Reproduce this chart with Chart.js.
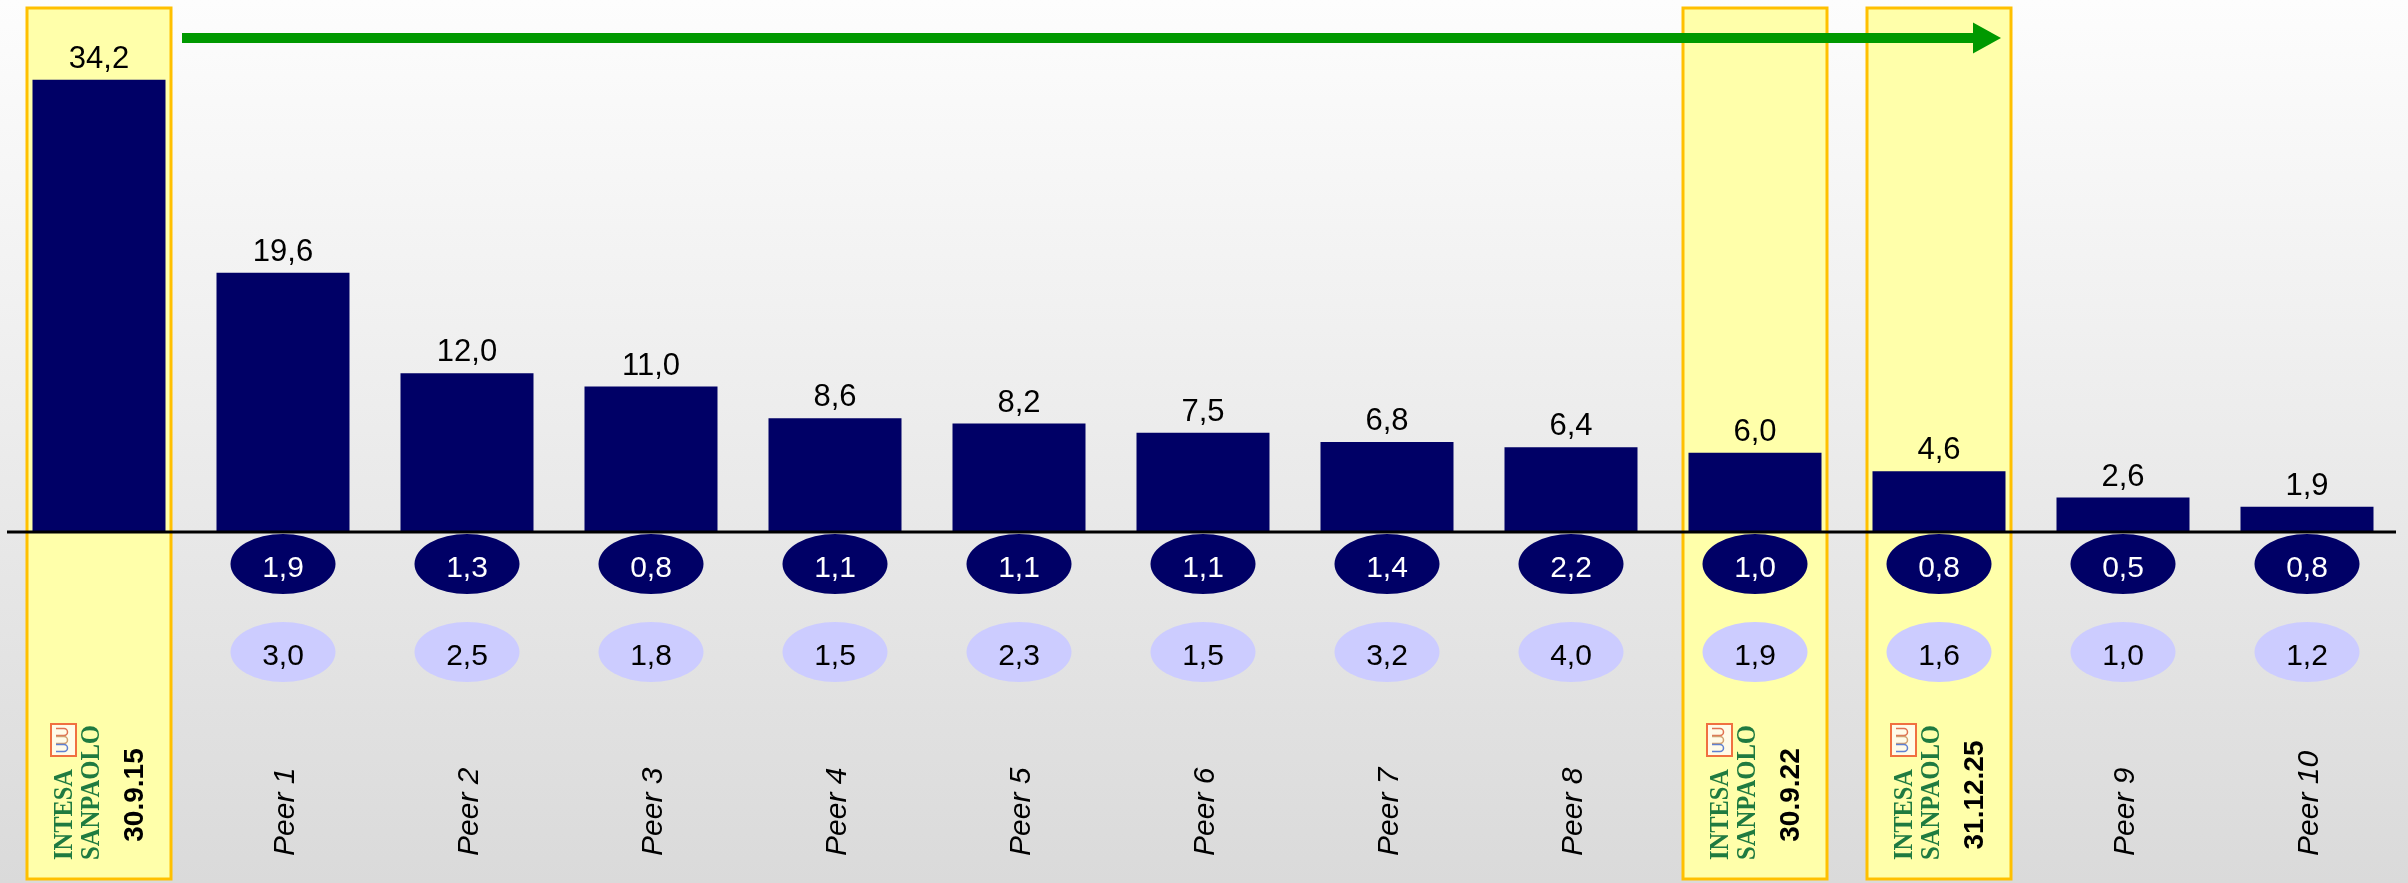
<!DOCTYPE html>
<html>
<head>
<meta charset="utf-8">
<script src="https://cdn.jsdelivr.net/npm/chart.js@4.4.1/dist/chart.umd.min.js"></script>
<style>
html, body { margin: 0; padding: 0; overflow: hidden; background: #fff; }
#wrap { width: 2408px; height: 883px; }
</style>
</head>
<body>
<div id="wrap"><canvas id="peerChart" width="2408" height="883"></canvas></div>
<script>
// categories and values
var categories = ['30.9.15', 'Peer 1', 'Peer 2', 'Peer 3', 'Peer 4', 'Peer 5', 'Peer 6', 'Peer 7', 'Peer 8', '30.9.22', '31.12.25', 'Peer 9', 'Peer 10'];
var isIntesa = [true, false, false, false, false, false, false, false, false, true, true, false, false];
var mainValues = [34.2, 19.6, 12.0, 11.0, 8.6, 8.2, 7.5, 6.8, 6.4, 6.0, 4.6, 2.6, 1.9];
var darkValues = [null, 1.9, 1.3, 0.8, 1.1, 1.1, 1.1, 1.4, 2.2, 1.0, 0.8, 0.5, 0.8];
var lightValues = [null, 3.0, 2.5, 1.8, 1.5, 2.3, 1.5, 3.2, 4.0, 1.9, 1.6, 1.0, 1.2];

var NAVY = '#000066';
var LAVENDER = '#CCCCFF';
var FONT = "'Liberation Sans', Arial, sans-serif";

function fmt(v) {
    return v.toFixed(1).replace('.', ',');
}

function drawRotated(ctx, text, x, y, font, color, align, maxWidth) {
    ctx.save();
    ctx.translate(x, y);
    ctx.rotate(-Math.PI / 2);
    ctx.font = font;
    ctx.fillStyle = color;
    ctx.textAlign = align;
    ctx.textBaseline = 'alphabetic';
    if (maxWidth) ctx.fillText(text, 0, 0, maxWidth);
    else ctx.fillText(text, 0, 0);
    ctx.restore();
}

function drawLogo(ctx, cx) {
    var green = '#1f7a40';
    var serif = "bold 27px 'Liberation Serif', 'Times New Roman', serif";
    // INTESA / SANPAOLO written bottom-to-top
    drawRotated(ctx, 'INTESA', cx - 27, 860, serif, green, 'left', 91);
    drawRotated(ctx, 'SANPAOLO', cx + 0, 860, serif, green, 'left', 135);
    // small icon above INTESA
    var ix = cx - 48, iy = 724, iw = 25, ih = 32;
    ctx.save();
    ctx.fillStyle = '#fffbe8';
    ctx.fillRect(ix, iy, iw, ih);
    ctx.strokeStyle = '#f07040';
    ctx.lineWidth = 2;
    ctx.strokeRect(ix, iy, iw, ih);
    ctx.lineWidth = 1.5;
    var cols = ['#e07050', '#d0a070', '#6080d0'];
    for (var k = 0; k < 3; k++) {
        var cy = iy + 8 + k * 8;
        ctx.strokeStyle = cols[k];
        ctx.beginPath();
        ctx.moveTo(ix + 5, cy - 3.5);
        ctx.lineTo(ix + 13, cy - 3.5);
        ctx.arc(ix + 13, cy, 3.5, -Math.PI / 2, Math.PI / 2);
        ctx.lineTo(ix + 5, cy + 3.5);
        ctx.stroke();
    }
    ctx.restore();
}

var decorPlugin = {
    id: 'decor',
    beforeDraw: function (chart) {
        var ctx = chart.ctx;
        var xs = chart.scales.x;
        var g = ctx.createLinearGradient(0, 0, 0, chart.height);
        g.addColorStop(0, '#fdfdfd');
        g.addColorStop(1, '#dadada');
        ctx.save();
        ctx.fillStyle = g;
        ctx.fillRect(0, 0, chart.width, chart.height);

        // highlighted columns
        ctx.fillStyle = '#FFFFAA';
        ctx.strokeStyle = '#FFC000';
        ctx.lineWidth = 3;
        isIntesa.forEach(function (flag, i) {
            if (!flag) return;
            var cx = xs.getPixelForValue(i);
            ctx.fillRect(cx - 72, 8, 144, 871);
            ctx.strokeRect(cx - 72, 8, 144, 871);
        });

        // green arrow from first column to latest figure
        var x0 = xs.getPixelForValue(0) + 83;
        var tip = xs.getPixelForValue(10) + 62;
        var ay = 38;
        ctx.fillStyle = '#009900';
        ctx.fillRect(x0, ay - 5, tip - 28 - x0, 10);
        ctx.beginPath();
        ctx.moveTo(tip - 28, ay - 15.5);
        ctx.lineTo(tip, ay);
        ctx.lineTo(tip - 28, ay + 15.5);
        ctx.closePath();
        ctx.fill();
        ctx.restore();
    },
    afterDatasetsDraw: function (chart) {
        var ctx = chart.ctx;
        var xs = chart.scales.x;
        var ys = chart.scales.y;
        var base = ys.getPixelForValue(0);
        var bars = chart.getDatasetMeta(0).data;

        ctx.save();
        // baseline
        ctx.strokeStyle = '#000';
        ctx.lineWidth = 3;
        ctx.beginPath();
        ctx.moveTo(7, base);
        ctx.lineTo(2396, base);
        ctx.stroke();

        // values above bars
        ctx.font = '31px ' + FONT;
        ctx.fillStyle = '#000';
        ctx.textAlign = 'center';
        ctx.textBaseline = 'alphabetic';
        bars.forEach(function (bar, i) {
            ctx.fillText(fmt(mainValues[i]), bar.x, bar.y - 12);
        });

        // two rows of ellipses
        ctx.font = '30px ' + FONT;
        categories.forEach(function (c, i) {
            var cx = xs.getPixelForValue(i);
            if (darkValues[i] !== null) {
                ctx.fillStyle = NAVY;
                ctx.beginPath();
                ctx.ellipse(cx, base + 32, 52.5, 30, 0, 0, Math.PI * 2);
                ctx.fill();
                ctx.fillStyle = '#fff';
                ctx.fillText(fmt(darkValues[i]), cx, base + 44.5);
            }
            if (lightValues[i] !== null) {
                ctx.fillStyle = LAVENDER;
                ctx.beginPath();
                ctx.ellipse(cx, base + 120, 52.5, 30, 0, 0, Math.PI * 2);
                ctx.fill();
                ctx.fillStyle = '#000';
                ctx.fillText(fmt(lightValues[i]), cx, base + 132.5);
            }
        });

        // category labels, rotated
        categories.forEach(function (c, i) {
            var cx = xs.getPixelForValue(i);
            if (isIntesa[i]) {
                drawLogo(ctx, cx);
                drawRotated(ctx, c, cx + 44, 795, 'bold 28px ' + FONT, '#000', 'center');
            } else {
                drawRotated(ctx, c, cx + 11, 856, 'italic 30px ' + FONT, '#000', 'left');
            }
        });
        ctx.restore();
    }
};

var ctx = document.getElementById('peerChart');
var chart = new Chart(ctx, {
    type: 'bar',
    data: {
        labels: categories,
        datasets: [{
            data: mainValues,
            backgroundColor: NAVY,
            borderWidth: 0,
            categoryPercentage: 1,
            barPercentage: 0.7228
        }]
    },
    options: {
        responsive: false,
        animation: false,
        devicePixelRatio: 1,
        layout: {
            padding: { left: 7, right: 9, top: 3, bottom: 351 }
        },
        scales: {
            x: { display: false, grid: { display: false } },
            y: { display: false, min: 0, max: 40, grid: { display: false } }
        },
        plugins: {
            legend: { display: false },
            tooltip: { enabled: false }
        }
    },
    plugins: [decorPlugin]
});
</script>
</body>
</html>
